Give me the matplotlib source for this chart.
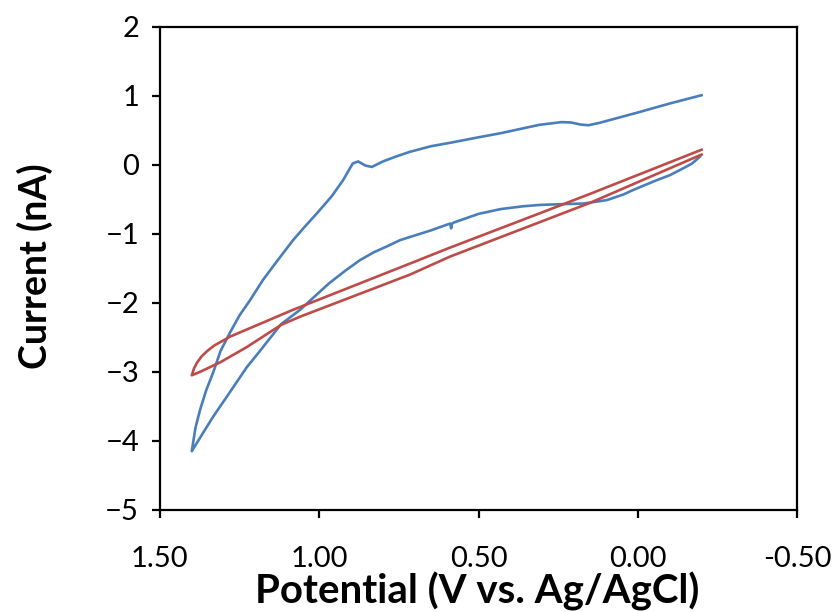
import matplotlib
matplotlib.use('Agg')
import matplotlib.pyplot as plt

plt.rcParams['font.family'] = ['Lato', 'DejaVu Sans']

# Blue CV scan: upper branch from -0.2 V to the 1.4 V vertex, then back along the lower branch
blue_v = [-0.20, -0.10, 0.00, 0.08, 0.12, 0.155, 0.18, 0.21, 0.24, 0.31, 0.43, 0.50,
          0.59, 0.65, 0.715, 0.76, 0.80, 0.835, 0.855, 0.878, 0.895, 0.925, 0.96,
          1.007, 1.05, 1.082, 1.13, 1.177, 1.217, 1.25, 1.28, 1.31, 1.333, 1.355,
          1.374, 1.388, 1.395, 1.40,
          1.38, 1.36, 1.333, 1.29, 1.227, 1.19, 1.12, 1.06, 0.97, 0.92, 0.872, 0.83,
          0.787, 0.746, 0.65, 0.589, 0.586, 0.584, 0.58, 0.50, 0.43, 0.36, 0.307,
          0.244, 0.17, 0.097, 0.046, 0.013, -0.06, -0.10, -0.142, -0.17, -0.195]
blue_i = [1.01, 0.89, 0.76, 0.66, 0.61, 0.575, 0.585, 0.615, 0.62, 0.58, 0.46, 0.40,
          0.32, 0.27, 0.19, 0.12, 0.05, -0.03, -0.01, 0.05, 0.02, -0.22, -0.45,
          -0.70, -0.92, -1.09, -1.38, -1.67, -1.96, -2.18, -2.43, -2.70, -3.01, -3.27,
          -3.55, -3.80, -4.0, -4.15,
          -4.0, -3.85, -3.65, -3.36, -2.93, -2.72, -2.31, -2.10, -1.72, -1.54, -1.38, -1.27,
          -1.18, -1.09, -0.95, -0.85, -0.92, -0.86, -0.84, -0.71, -0.64, -0.60, -0.58,
          -0.57, -0.56, -0.51, -0.43, -0.36, -0.22, -0.15, -0.05, 0.02, 0.12]

# Red CV scan
red_v = [-0.20, 0.15, 0.307, 0.59, 0.715, 1.06, 1.082, 1.28, 1.33, 1.352, 1.37, 1.384,
         1.393, 1.40, 1.374, 1.31, 1.227, 1.12, 1.06, 0.715, 0.59, 0.15, -0.20]
red_i = [0.22, -0.42, -0.70, -1.20, -1.43, -2.06, -2.10, -2.49, -2.62, -2.70, -2.78,
         -2.87, -2.95, -3.05, -3.0, -2.86, -2.64, -2.32, -2.20, -1.59, -1.33, -0.55, 0.15]

x_ticks = [1.5, 1.0, 0.5, 0.0, -0.5]
x_labels = ['1.50', '1.00', '0.50', '0.00', '-0.50']
y_ticks = [2, 1, 0, -1, -2, -3, -4, -5]

fig = plt.figure(figsize=(8.33, 6.12), dpi=100)
ax = fig.add_axes([0.192, 0.167, 0.765, 0.789])

ax.plot(blue_v, blue_i, color='#4A7EBB', lw=1.9, solid_joinstyle='round')
ax.plot(red_v, red_i, color='#BE4B48', lw=1.9, solid_joinstyle='round')

ax.set_xlim(1.5, -0.5)
ax.set_ylim(-5, 2)
ax.set_xticks(x_ticks)
ax.set_xticklabels(x_labels)
ax.set_yticks(y_ticks)

for s in ax.spines.values():
    s.set_linewidth(1.6)
    s.set_color('black')
ax.tick_params(direction='out', length=6, width=1.6, labelsize=21, pad=9, colors='black')
ax.tick_params(axis='x', pad=20)

ax.set_xlabel('Potential (V vs. Ag/AgCl)', fontsize=29, fontweight='bold', va='baseline')
ax.xaxis.set_label_coords(0.498, -0.195)
ax.set_ylabel('Current (nA)', fontsize=27, fontweight='bold', va='center')
ax.yaxis.set_label_coords(-0.197, 0.505)

fig.savefig('out.png', dpi=100)
